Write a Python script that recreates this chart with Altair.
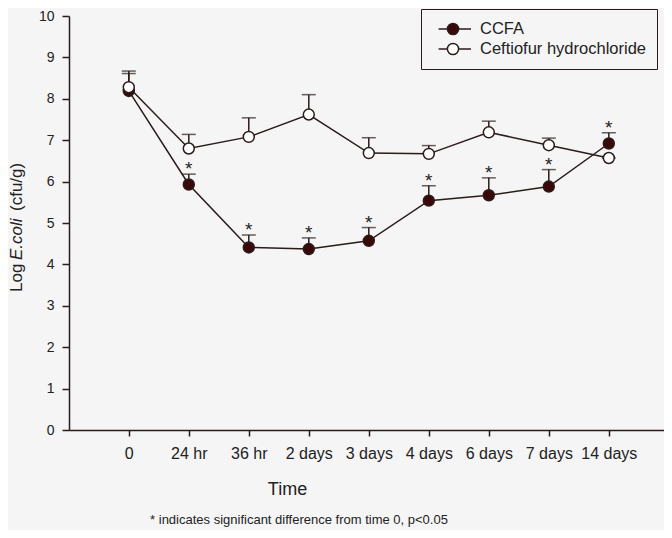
import altair as alt
import pandas as pd

categories = ["0", "24 hr", "36 hr", "2 days", "3 days", "4 days", "6 days", "7 days", "14 days"]
series_names = ["CCFA", "Ceftiofur hydrochloride"]
ccfa_mean = [8.19, 5.93, 4.41, 4.37, 4.57, 5.54, 5.67, 5.88, 6.92]
ccfa_err = [0.42, 0.25, 0.30, 0.27, 0.32, 0.36, 0.42, 0.41, 0.26]
ceft_mean = [8.28, 6.80, 7.08, 7.62, 6.69, 6.67, 7.19, 6.88, 6.57]
ceft_err = [0.39, 0.34, 0.46, 0.48, 0.37, 0.20, 0.27, 0.17, 0.0]
ccfa_sig = [False, True, True, True, True, True, True, True, True]
y_ticks = list(range(0, 11))

rows = []
for s, means, errs in [(series_names[0], ccfa_mean, ccfa_err), (series_names[1], ceft_mean, ceft_err)]:
    for c, m, e in zip(categories, means, errs):
        rows.append({"time": c, "series": s, "value": m, "top": m + e})
df = pd.DataFrame(rows)
stars = pd.DataFrame({"time": categories,
                      "top": [m + e for m, e in zip(ccfa_mean, ccfa_err)],
                      "sig": ccfa_sig})
stars = stars[stars["sig"]]

DARK = "#2b1b1b"
FILL = "#3a0808"
BG = "#f5f5f5"
TXT = "#222222"
FONT = "Liberation Sans"

xs = alt.X("time:N", sort=categories,
           scale=alt.Scale(type="point", padding=0.958, align=0.52),
           axis=alt.Axis(title="Time", labelAngle=0, labelFontSize=16, labelPadding=9,
                         tickSize=6, titleFontSize=18, titleFontWeight="normal",
                         titleX=218, titleY=50, titleAnchor="start", titleAlign="center"))
ys = alt.Y("value:Q", scale=alt.Scale(domain=[0, 10], nice=False, zero=True),
           axis=alt.Axis(title=None, values=y_ticks, labelFontSize=14, tickSize=7,
                         labelPadding=8, grid=False))

base = alt.Chart(df)

err_rule = base.mark_rule(color=DARK, strokeWidth=1.5).encode(
    x=xs, y=ys, y2="top:Q", detail="series:N")
err_cap = base.mark_tick(color=DARK, thickness=1.5, size=14, orient="horizontal").encode(
    x=xs, y=alt.Y("top:Q"), detail="series:N")
lines = base.mark_line(color=DARK, strokeWidth=1.5).encode(
    x=xs, y=ys, detail="series:N")

legend_path = ("M-0.3,0L0.8,0M2.2,0L3.75,0"
               "M0.8,0A0.7,0.7,0,1,1,2.2,0A0.7,0.7,0,1,1,0.8,0Z")
points = base.mark_point(filled=False, size=120, stroke=DARK, strokeWidth=1.5, opacity=1).encode(
    x=xs, y=ys,
    fill=alt.Fill("series:N", sort=series_names,
                  scale=alt.Scale(domain=series_names, range=[FILL, "#ffffff"]),
                  legend=alt.Legend(title=None, orient="none", legendX=352, legendY=-7,
                                    padding=11, strokeColor=DARK, fillColor=BG,
                                    labelFontSize=16.5, labelColor=TXT, labelFont=FONT,
                                    labelLimit=400,
                                    symbolType=legend_path, symbolSize=256,
                                    symbolStrokeColor=DARK, symbolStrokeWidth=1.5,
                                    labelOffset=30, rowPadding=2, symbolOpacity=1)),
)

star_text = alt.Chart(stars).mark_text(text="*", fontSize=19, font=FONT, color=TXT,
                                        baseline="alphabetic", dy=1).encode(
    x=alt.X("time:N", sort=categories), y=alt.Y("top:Q"))

ylab_log = alt.Chart(pd.DataFrame({"t": ["Log"]})).mark_text(
    angle=270, align="left", baseline="middle", fontSize=17, font=FONT, color=TXT
).encode(text="t:N", x=alt.value(-52), y=alt.value(276))
ylab_ecoli = alt.Chart(pd.DataFrame({"t": ["E.coli"]})).mark_text(
    angle=270, align="left", baseline="middle", fontSize=17, font=FONT, fontStyle="italic",
    color=TXT
).encode(text="t:N", x=alt.value(-52), y=alt.value(244))
ylab_unit = alt.Chart(pd.DataFrame({"t": ["(cfu/g)"]})).mark_text(
    angle=270, align="left", baseline="middle", fontSize=17, font=FONT, color=TXT
).encode(text="t:N", x=alt.value(-52), y=alt.value(195))
footnote = alt.Chart(pd.DataFrame({"t": ["* indicates significant difference from time 0, p<0.05"]})).mark_text(
    align="center", baseline="middle", fontSize=13, font=FONT, color=TXT
).encode(text="t:N", x=alt.value(230), y=alt.value(504))

chart = alt.layer(err_rule, err_cap, lines, points, star_text,
                  ylab_log, ylab_ecoli, ylab_unit, footnote).properties(
    width=595, height=414,
    autosize=alt.AutoSizeParams(type="none"),
    padding={"left": 61, "top": 8, "right": 0, "bottom": 100},
    background=BG,
).configure_view(stroke=None).configure_axis(
    domainColor=DARK, domainWidth=1.5, tickColor=DARK, tickWidth=1.5,
    labelColor=TXT, titleColor=TXT, labelFont=FONT, titleFont=FONT,
).configure_axisX(domain=True)

chart.save("out.html", embed_options={"renderer": "svg", "actions": False})
